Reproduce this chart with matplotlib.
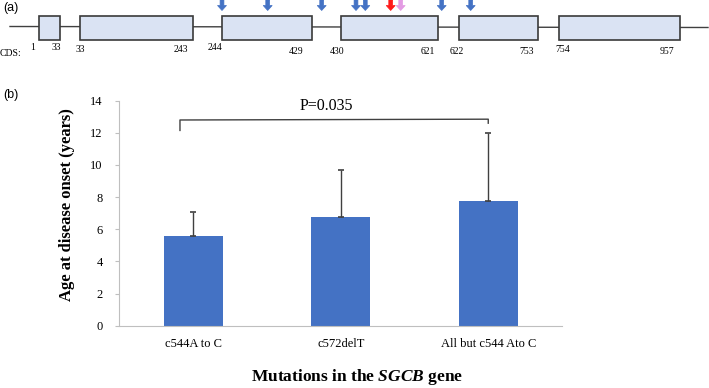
import matplotlib.pyplot as plt
from matplotlib.patches import Rectangle, FancyArrow

# panel (a): gene schematic (schematic units, drawn left to right)
exon_left = [38.7, 80.3, 221.7, 340.7, 459.3, 559.3]
exon_right = [60.0, 192.7, 311.7, 437.7, 537.7, 680.3]
cds_start = ['1', '33', '244', '430', '622', '754']
cds_end = ['33', '243', '429', '621', '753', '957']
start_lab_x = [33, 80, 215, 337, 457, 563]
end_lab_x = [56, 181, 296, 428, 527, 667]
start_lab_y = [48, 50, 47, 52, 52, 49]
end_lab_y = [48, 50, 51, 51, 52, 51]
mut_x = [222, 267.7, 321.7, 356, 365.3, 390.7, 400.7, 441.7, 470.7]
mut_col = ['#4472C4'] * 5 + ['#FF1A1A', '#E39BE3'] + ['#4472C4'] * 2

# panel (b): bar chart
groups = ['c544A to C', 'c572delT', 'All but c544 Ato C']
mean_age = [5.58, 6.74, 7.78]
sd_age = [1.51, 2.93, 4.23]
p_text = 'P=0.035'
bracket_x = [-0.09, -0.09, 2.0, 2.0]
bracket_y = [12.15, 12.8, 12.85, 12.6]

plt.rcParams['mathtext.fontset'] = 'custom'
plt.rcParams['mathtext.it'] = 'Liberation Serif:italic:bold'
plt.rcParams['mathtext.rm'] = 'Liberation Serif:bold'

W, H = 709, 388
fig = plt.figure(figsize=(W / 100, H / 100), dpi=100)
serif = 'Liberation Serif'
sans = 'Liberation Sans'

# ---- panel (a)
top = fig.add_axes([0, 1 - 60 / H, 1, 60 / H])
top.set_xlim(0, W)
top.set_ylim(60, 0)
top.axis('off')
top.plot([10, 708], [26.5, 27.5], color='#404040', lw=1, zorder=1)
for l, r in zip(exon_left, exon_right):
    top.add_patch(Rectangle((l, 15.5), r - l, 24.5, facecolor='#DAE3F3',
                            edgecolor='#3A3A3A', lw=1.2, zorder=2))
for xs_, ys_, labs in [(start_lab_x, start_lab_y, cds_start),
                       (end_lab_x, end_lab_y, cds_end)]:
    for x, y, s in zip(xs_, ys_, labs):
        top.text(x, y, s, fontsize=7, family=serif, ha='center', va='center')
top.text(0, 53, 'CDS:', fontsize=7, family=serif, ha='left', va='center')
for x, c in zip(mut_x, mut_col):
    top.add_patch(FancyArrow(x, 0, 0, 10.5, width=3.8, head_width=9,
                             head_length=5, length_includes_head=True,
                             facecolor=c, edgecolor=c, lw=0.5, zorder=3))
fig.text(3 / W, 1 - 8 / H, '(a)', fontsize=9, family=sans, va='center')
fig.text(3 / W, 1 - 95 / H, '(b)', fontsize=9, family=sans, va='center')

# ---- panel (b)
ax = fig.add_axes([119.5 / W, 1 - 325.7 / H, (562 - 119.5) / W, 225 / H])
xs = range(len(groups))
ax.bar(xs, mean_age, width=0.4, color='#4472C4', zorder=2)
ax.errorbar(xs, mean_age, yerr=[[0] * 3, sd_age], fmt='none',
            ecolor='#404040', elinewidth=1, capsize=2.2, capthick=1.2, zorder=3)
ax.plot(bracket_x, bracket_y, color='#404040', lw=1)
ax.text(0.9, 13.7, p_text, fontsize=11.5, family=serif, ha='center',
        va='center')

ax.set_xlim(-0.5, 2.5)
ax.set_ylim(0, 14)
ax.set_yticks(range(0, 15, 2))
ax.set_xticks(list(xs))
ax.set_xticklabels(groups)
for sp in ['top', 'right']:
    ax.spines[sp].set_visible(False)
for sp in ['left', 'bottom']:
    ax.spines[sp].set_color('#BFBFBF')
ax.tick_params(axis='y', length=3, color='#BFBFBF', pad=9, labelsize=9)
ax.tick_params(axis='x', length=0, pad=9, labelsize=9)
for lab in ax.get_xticklabels() + ax.get_yticklabels():
    lab.set_family(serif)

fig.text(67 / W, 1 - 205 / H, 'Age at disease onset (years)', rotation=90,
         fontsize=12, fontweight='bold', family=serif, ha='center',
         va='center')
fig.text(357 / W, 1 - 377 / H, r'Mutations in the $\mathit{SGCB}$ gene',
         fontsize=12.5, fontweight='bold', family=serif, ha='center',
         va='center')

fig.savefig('out.png', dpi=100)
